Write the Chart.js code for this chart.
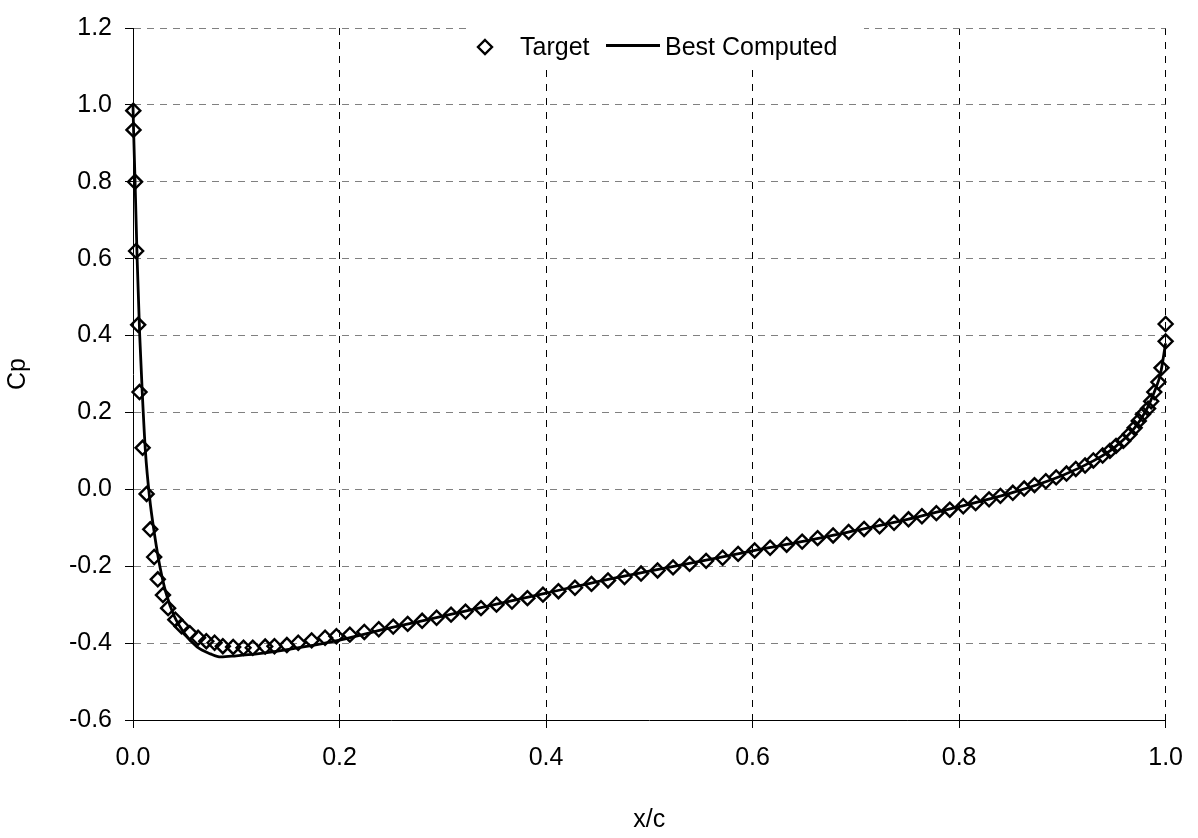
<!DOCTYPE html>
<html>
<head>
<meta charset="utf-8">
<title>Cp distribution</title>
<script src="https://cdn.jsdelivr.net/npm/chart.js@4/dist/chart.umd.min.js"></script>
<style>
  html, body { margin: 0; padding: 0; background: #ffffff; }
  #wrap { position: relative; width: 1198px; height: 838px; }
</style>
</head>
<body>
<div id="wrap"><canvas id="cp"></canvas></div>
<script>
// Target pressure coefficient samples along the chord
const targetX = [
  0.0003, 0.0005, 0.0020, 0.0030, 0.0050, 0.0063, 0.0093, 0.0132, 0.0167, 0.0205,
  0.0240, 0.0290, 0.0340, 0.0410, 0.0470, 0.0550, 0.0630, 0.0710, 0.0790, 0.0870,
  0.0970, 0.1070, 0.1160, 0.1280, 0.1370, 0.1490, 0.1600, 0.1730, 0.1860, 0.1970,
  0.2100, 0.2240, 0.2380, 0.2520, 0.2660, 0.2800, 0.2940, 0.3080, 0.3220, 0.3370,
  0.3520, 0.3670, 0.3820, 0.3970, 0.4120, 0.4280, 0.4440, 0.4600, 0.4760, 0.4920,
  0.5080, 0.5230, 0.5390, 0.5550, 0.5710, 0.5860, 0.6020, 0.6170, 0.6330, 0.6480,
  0.6630, 0.6780, 0.6930, 0.7080, 0.7230, 0.7370, 0.7510, 0.7640, 0.7780, 0.7910,
  0.8040, 0.8160, 0.8290, 0.8400, 0.8520, 0.8630, 0.8730, 0.8840, 0.8940, 0.9040,
  0.9130, 0.9220, 0.9300, 0.9390, 0.9460, 0.9520, 0.9590, 0.9650, 0.9700, 0.9740,
  0.9780, 0.9830, 0.9860, 0.9890, 0.9930, 0.9960, 1.0000, 1.0000
];
const targetCp = [
  0.985, 0.935, 0.800, 0.620, 0.428, 0.253, 0.108, -0.012, -0.104, -0.176,
  -0.234, -0.275, -0.309, -0.339, -0.356, -0.374, -0.386, -0.395, -0.399, -0.408,
  -0.410, -0.412, -0.412, -0.409, -0.408, -0.405, -0.399, -0.393, -0.386, -0.382,
  -0.378, -0.371, -0.364, -0.357, -0.350, -0.342, -0.334, -0.326, -0.318, -0.309,
  -0.300, -0.292, -0.283, -0.274, -0.265, -0.256, -0.246, -0.237, -0.228, -0.219,
  -0.211, -0.203, -0.194, -0.186, -0.178, -0.168, -0.159, -0.152, -0.144, -0.136,
  -0.127, -0.120, -0.111, -0.103, -0.096, -0.087, -0.078, -0.070, -0.062, -0.053,
  -0.044, -0.036, -0.026, -0.017, -0.009, 0.002, 0.011, 0.021, 0.031, 0.041,
  0.053, 0.062, 0.075, 0.088, 0.100, 0.113, 0.126, 0.143, 0.160, 0.178,
  0.195, 0.210, 0.229, 0.253, 0.279, 0.316, 0.385, 0.430
];

// Best computed distribution
const computedX = [
  0.0000, 0.0005, 0.0020, 0.0040, 0.0065, 0.0090, 0.0120, 0.0160, 0.0210, 0.0260,
  0.0320, 0.0400, 0.0500, 0.0620, 0.0750, 0.0850, 0.1000, 0.1200, 0.1400, 0.1650,
  0.2000, 0.2500, 0.3000, 0.3500, 0.4000, 0.4500, 0.5000, 0.5500, 0.6000, 0.6500,
  0.7000, 0.7500, 0.8000, 0.8500, 0.9000, 0.9300, 0.9500, 0.9700, 0.9800, 0.9900,
  0.9950, 1.0000
];
const computedCp = [
  1.000, 0.940, 0.800, 0.600, 0.400, 0.250, 0.100, -0.020, -0.120, -0.200,
  -0.270, -0.330, -0.375, -0.410, -0.428, -0.436, -0.433, -0.428, -0.421, -0.410,
  -0.392, -0.360, -0.330, -0.300, -0.270, -0.240, -0.213, -0.187, -0.160, -0.135,
  -0.107, -0.078, -0.045, -0.010, 0.036, 0.074, 0.108, 0.160, 0.200, 0.260,
  0.300, 0.380
];

// Axis tick settings
const xTicks = { min: 0, max: 1, step: 0.2 };
const yTicks = { min: -0.6, max: 1.2, step: 0.2 };

// Legend entries
const legendLabels = ['Target', 'Best Computed'];

const FONT = 'Arial, "Liberation Sans", Helvetica, sans-serif';
const FSIZE = 25;

const toPts = (xs, ys) => xs.map((x, i) => ({ x: x, y: ys[i] }));
const fmt = v => (Math.abs(v) < 1e-9 ? 0 : v).toFixed(1);

// Legend drawn inside the plot, on a white box
const innerLegend = {
  id: 'innerLegend',
  afterDraw(chart) {
    const ctx = chart.ctx;
    ctx.save();
    ctx.fillStyle = '#ffffff';
    ctx.fillRect(468, 25, 396, 43);

    // diamond marker
    const cx = 485, cy = 47, r = 7;
    ctx.beginPath();
    ctx.moveTo(cx, cy - r);
    ctx.lineTo(cx + r, cy);
    ctx.lineTo(cx, cy + r);
    ctx.lineTo(cx - r, cy);
    ctx.closePath();
    ctx.lineWidth = 2.4;
    ctx.strokeStyle = '#000000';
    ctx.stroke();

    ctx.font = FSIZE + 'px ' + FONT;
    ctx.fillStyle = '#000000';
    ctx.textBaseline = 'alphabetic';
    ctx.textAlign = 'left';
    ctx.fillText(legendLabels[0], 520, 55);

    ctx.beginPath();
    ctx.moveTo(606, 45.5);
    ctx.lineTo(660, 45.5);
    ctx.lineWidth = 2.8;
    ctx.stroke();
    ctx.fillText(legendLabels[1], 665, 55);
    ctx.restore();
  }
};

Chart.defaults.font.family = FONT;
Chart.defaults.font.size = FSIZE;
Chart.defaults.color = '#000000';

new Chart(document.getElementById('cp'), {
  type: 'line',
  data: {
    datasets: [
      {
        label: legendLabels[0],
        data: toPts(targetX, targetCp),
        showLine: false,
        pointStyle: 'rectRot',
        pointRadius: 7,
        pointBorderWidth: 2.4,
        pointBorderColor: '#000000',
        pointBackgroundColor: 'rgba(255,255,255,0)',
        clip: false,
        order: 0
      },
      {
        label: legendLabels[1],
        data: toPts(computedX, computedCp),
        showLine: true,
        borderColor: '#000000',
        borderWidth: 2.8,
        pointRadius: 0,
        cubicInterpolationMode: 'monotone',
        fill: false,
        clip: false,
        order: 1
      }
    ]
  },
  options: {
    responsive: true,
    maintainAspectRatio: false,
    animation: false,
    layout: { padding: { top: 18, right: 32, left: 0, bottom: 0 } },
    plugins: {
      legend: { display: false },
      tooltip: { enabled: false }
    },
    scales: {
      x: {
        type: 'linear',
        min: xTicks.min,
        max: xTicks.max,
        afterFit(scale) { scale.height = 118; },
        ticks: {
          stepSize: xTicks.step,
          padding: 15,
          maxRotation: 0,
          callback: v => fmt(v)
        },
        grid: {
          color: '#000000',
          lineWidth: 1,
          tickLength: 8,
          tickColor: '#000000',
          tickBorderDash: []
        },
        border: { display: true, color: '#000000', width: 1, dash: [7, 7] },
        title: {
          display: true,
          text: 'x/c',
          padding: { top: 0, bottom: 3 }
        }
      },
      y: {
        type: 'linear',
        min: yTicks.min,
        max: yTicks.max,
        afterFit(scale) { scale.width = 133; },
        ticks: {
          stepSize: yTicks.step,
          padding: 13,
          callback: v => fmt(v)
        },
        grid: {
          color: '#808080',
          lineWidth: 1,
          tickLength: 8,
          tickColor: '#000000',
          tickBorderDash: []
        },
        border: { display: true, color: '#000000', width: 1, dash: [7, 6] },
        title: {
          display: true,
          text: 'Cp',
          padding: { top: 3, bottom: 0 }
        }
      }
    }
  },
  plugins: [innerLegend]
});
</script>
</body>
</html>
